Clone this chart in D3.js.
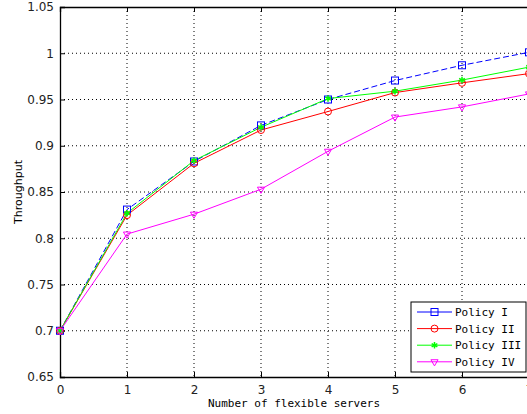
<!DOCTYPE html>
<html lang="en">
  <head>
    <meta charset="UTF-8" />
    <title>Throughput</title>
    <script src="https://cdn.jsdelivr.net/npm/d3@7/dist/d3.min.js"></script>
    <style>
      body { margin: 0; background: #fff; }
    </style>
  </head>
  <body>
    <svg width="527" height="414"></svg>
  </body>
  <script>
    var servers = [0, 1, 2, 3, 4, 5, 6, 7];
    var policyI = [0.7, 0.831, 0.883, 0.922, 0.95, 0.9705, 0.987, 1.001];
    var policyII = [0.7, 0.825, 0.881, 0.917, 0.937, 0.9575, 0.968, 0.978];
    var policyIII = [0.7, 0.827, 0.884, 0.92, 0.951, 0.959, 0.971, 0.985];
    var policyIV = [0.7, 0.8045, 0.826, 0.853, 0.894, 0.931, 0.942, 0.956];
    var yTicks = [0.65, 0.7, 0.75, 0.8, 0.85, 0.9, 0.95, 1, 1.05];
    var seriesNames = ["Policy I", "Policy II", "Policy III", "Policy IV"];

    var series = [
      { name: seriesNames[0], values: policyI, color: "#0000ff", marker: "square", dash: "6,3" },
      { name: seriesNames[1], values: policyII, color: "#ff0000", marker: "circle", dash: null },
      { name: seriesNames[2], values: policyIII, color: "#00ff00", marker: "star", dash: null },
      { name: seriesNames[3], values: policyIV, color: "#ff00ff", marker: "tri", dash: null }
    ];

    var svg = d3.select("svg");
    var pLeft = 60, pTop = 7, pBottom = 377, pRight = 529;

    var x = d3.scaleLinear().domain([0, 7]).range([pLeft, pRight]);
    var y = d3.scaleLinear().domain([0.65, 1.05]).range([pBottom, pTop]);

    // grid
    svg.append("g")
      .selectAll("line")
      .data(servers.slice(1))
      .enter()
      .append("line")
      .attr("x1", (d) => x(d)).attr("x2", (d) => x(d))
      .attr("y1", pTop).attr("y2", pBottom)
      .attr("stroke", "#000")
      .attr("stroke-dasharray", "1,3");
    svg.append("g")
      .selectAll("line")
      .data(yTicks.slice(1, -1))
      .enter()
      .append("line")
      .attr("y1", (d) => y(d)).attr("y2", (d) => y(d))
      .attr("x1", pLeft).attr("x2", pRight)
      .attr("stroke", "#000")
      .attr("stroke-dasharray", "1,3");

    // axes
    var xAxis = d3.axisBottom(x).tickValues(servers).tickSize(-5).tickPadding(8)
      .tickFormat(d3.format("d"));
    var yAxis = d3.axisLeft(y).tickValues(yTicks).tickSize(-5).tickPadding(6)
      .tickFormat((d) => String(d));
    var xTop = d3.axisTop(x).tickValues(servers).tickSize(-5).tickFormat("");

    svg.append("g").attr("class", "axis")
      .attr("transform", "translate(0," + pBottom + ")").call(xAxis);
    svg.append("g").attr("class", "axis")
      .attr("transform", "translate(" + pLeft + ",0)").call(yAxis);
    svg.append("g").attr("class", "axis")
      .attr("transform", "translate(0," + pTop + ")").call(xTop);

    svg.selectAll(".axis path").attr("stroke", "#000").attr("stroke-width", 1.3);
    svg.selectAll(".axis line").attr("stroke", "#000");
    svg.selectAll(".axis text")
      .attr("fill", "#222")
      .style("font-family", "DejaVu Sans, sans-serif")
      .style("font-size", "12px");

    // lines
    var line = d3.line().x((d, i) => x(servers[i])).y((d) => y(d));
    series.forEach(function (s) {
      svg.append("path")
        .attr("d", line(s.values))
        .attr("fill", "none")
        .attr("stroke", s.color)
        .attr("stroke-width", 1)
        .attr("stroke-dasharray", s.dash);
    });

    function marker(g, type, color, cx, cy) {
      if (type === "square") {
        g.append("rect").attr("x", cx - 3.5).attr("y", cy - 3.5)
          .attr("width", 7).attr("height", 7)
          .attr("fill", "none").attr("stroke", color);
      } else if (type === "circle") {
        g.append("circle").attr("cx", cx).attr("cy", cy).attr("r", 3.5)
          .attr("fill", "none").attr("stroke", color);
      } else if (type === "star") {
        g.append("path").attr("d", d3.symbol(d3.symbolAsterisk, 30)())
          .attr("transform", "translate(" + cx + "," + cy + ")")
          .attr("fill", "none").attr("stroke", color).attr("stroke-width", 1.5);
      } else {
        g.append("path").attr("d", d3.symbol(d3.symbolTriangle, 22)())
          .attr("transform", "translate(" + cx + "," + cy + ") rotate(180)")
          .attr("fill", "none").attr("stroke", color);
      }
    }

    series.forEach(function (s) {
      var g = svg.append("g");
      s.values.forEach(function (v, i) {
        marker(g, s.marker, s.color, x(servers[i]), y(v));
      });
    });

    // axis titles
    svg.append("text")
      .attr("x", 294).attr("y", 407)
      .attr("text-anchor", "middle")
      .style("font-family", "DejaVu Sans Mono, monospace")
      .style("font-size", "11px")
      .text("Number of flexible servers");
    svg.append("text")
      .attr("transform", "translate(22," + (pTop + pBottom) / 2 + ") rotate(-90)")
      .attr("text-anchor", "middle")
      .style("font-family", "DejaVu Sans, sans-serif")
      .style("font-size", "11px")
      .text("Throughput");

    // legend
    var legend = svg.append("g").attr("transform", "translate(411,302)");
    legend.append("rect")
      .attr("width", 115).attr("height", 70)
      .attr("fill", "#fff").attr("stroke", "#000");
    series.forEach(function (s, i) {
      var ly = 10 + i * 16.6;
      legend.append("line")
        .attr("x1", 6).attr("x2", 41).attr("y1", ly).attr("y2", ly)
        .attr("stroke", s.color);
      marker(legend, s.marker, s.color, 23.5, ly);
      legend.append("text")
        .attr("x", 44).attr("y", ly + 4)
        .style("font-family", "DejaVu Sans Mono, monospace")
        .style("font-size", "11px")
        .text(s.name);
    });
  </script>
</html>
